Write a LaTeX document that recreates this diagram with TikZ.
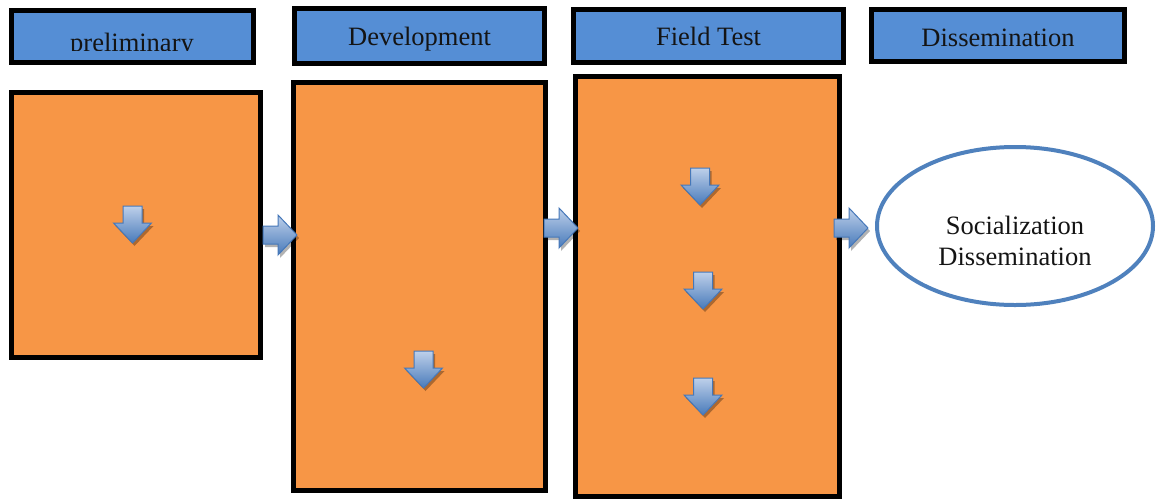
\documentclass[tikz,border=0pt]{standalone}
\usepackage{fontspec}
\setmainfont{Liberation Serif}
\usetikzlibrary{shapes.geometric}
\definecolor{hdrblue}{RGB}{85,142,213}
\definecolor{boxorange}{RGB}{247,150,70}
\definecolor{ellblue}{RGB}{79,129,189}
\definecolor{arrtop}{RGB}{190,208,234}
\definecolor{arrbot}{RGB}{72,122,186}
\definecolor{arredge}{RGB}{70,120,185}
\definecolor{txt}{RGB}{20,20,20}
\begin{document}
\begin{tikzpicture}[x=1pt,y=-1pt,
  hdrbox/.style={rectangle, draw=black, line width=5pt, fill=hdrblue, inner sep=0pt},
  stagebox/.style={rectangle, draw=black, line width=5pt, fill=boxorange, inner sep=0pt},
  lbl/.style={anchor=base, inner sep=0pt, text=txt, font=\fontsize{26.5}{31}\selectfont},
  arrshade/.style={top color=arrtop, bottom color=arrbot, draw=arredge, line width=1pt, line join=miter},
  arrshadow/.style={fill=black, opacity=0.3, draw=none},
  downarr/.pic={
    \fill[arrshadow] (-7.5,3) -- (11.5,3) -- (11.5,20) -- (21,20) -- (2,40) -- (-17,20) -- (-7.5,20) -- cycle;
    \path[arrshade] (-9.5,0) -- (9.5,0) -- (9.5,17) -- (19,17) -- (0,37) -- (-19,17) -- (-9.5,17) -- cycle;
  },
  rightarr/.pic={
    \fill[arrshadow] (2,-6) -- (17,-6) -- (17,-17) -- (36,3) -- (17,23) -- (17,12) -- (2,12) -- cycle;
    \path[arrshade] (0,-9) -- (15,-9) -- (15,-20) -- (34,0) -- (15,20) -- (15,9) -- (0,9) -- cycle;
  }]
\useasboundingbox (0,0) rectangle (1156,499);

% header boxes
\node[hdrbox, minimum width=242, minimum height=52] (h1) at (132.5,36.5) {};
\node[hdrbox, minimum width=250, minimum height=55] (h2) at (419.5,36) {};
\node[hdrbox, minimum width=270, minimum height=53] (h3) at (708.5,36) {};
\node[hdrbox, minimum width=253, minimum height=52] (h4) at (998,35.5) {};

\begin{scope}
  \clip (11.5,10.5) rectangle (253.5,50);
  \node[lbl] (t1) at (132,51) {preliminary};
\end{scope}
\node[lbl] (t2) at (419.5,45.7) {Development};
\node[lbl] (t3) at (708.5,45) {Field Test};
\node[lbl] (t4) at (998,46.7) {Dissemination};

% stage boxes
\node[stagebox, minimum width=249, minimum height=265] (b1) at (136,225) {};
\node[stagebox, minimum width=252, minimum height=408] (b2) at (419.5,286.5) {};
\node[stagebox, minimum width=264, minimum height=420] (b3) at (707.5,286.5) {};

% ellipse
\node[ellipse, draw=ellblue, line width=4pt, fill=white, minimum width=276, minimum height=158, inner sep=0pt] (e) at (1015,226) {};
\node[lbl] (s1) at (1015,234.3) {Socialization};
\node[lbl] (s2) at (1015,265) {Dissemination};

% down arrows
\pic (d1) at (132.5,206) {downarr};
\pic (d2) at (423.5,351) {downarr};
\pic (d3) at (700,168) {downarr};
\pic (d4) at (703,272) {downarr};
\pic (d5) at (703,378) {downarr};

% right arrows
\pic (r1) at (263,235) {rightarr};
\pic (r2) at (544,228) {rightarr};
\pic (r3) at (834,228) {rightarr};
\end{tikzpicture}
\end{document}
